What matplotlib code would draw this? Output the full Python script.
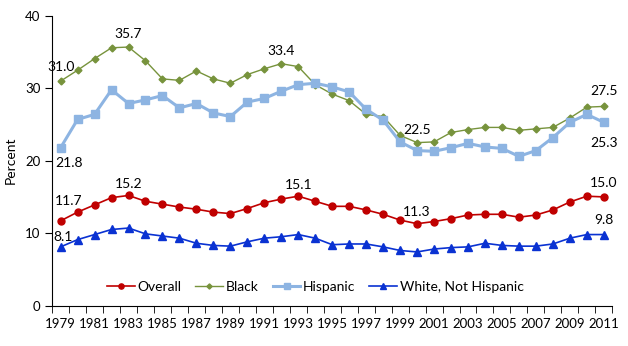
import matplotlib.pyplot as plt

years = list(range(1979, 2012))

overall = [11.7, 12.9, 13.9, 14.9, 15.2, 14.4, 14.0, 13.6, 13.3, 12.9, 12.7,
           13.4, 14.2, 14.7, 15.1, 14.4, 13.7, 13.7, 13.2, 12.6, 11.8, 11.3,
           11.6, 12.0, 12.5, 12.6, 12.6, 12.2, 12.5, 13.2, 14.3, 15.1, 15.0]
black = [31.0, 32.5, 34.1, 35.6, 35.7, 33.8, 31.3, 31.1, 32.4, 31.3, 30.7,
         31.9, 32.7, 33.4, 33.0, 30.5, 29.2, 28.3, 26.4, 26.1, 23.5, 22.5,
         22.6, 23.9, 24.3, 24.6, 24.6, 24.2, 24.4, 24.6, 25.9, 27.4, 27.5]
hispanic = [21.8, 25.7, 26.4, 29.8, 27.9, 28.4, 29.0, 27.3, 27.9, 26.6, 26.1,
            28.1, 28.6, 29.6, 30.5, 30.7, 30.2, 29.5, 27.1, 25.6, 22.6, 21.4,
            21.3, 21.8, 22.4, 21.9, 21.7, 20.6, 21.4, 23.2, 25.3, 26.4, 25.3]
white_nh = [8.1, 9.1, 9.8, 10.5, 10.7, 9.9, 9.6, 9.3, 8.6, 8.3, 8.2,
            8.8, 9.3, 9.5, 9.8, 9.3, 8.4, 8.5, 8.5, 8.1, 7.6, 7.4,
            7.8, 8.0, 8.1, 8.6, 8.3, 8.2, 8.2, 8.5, 9.3, 9.8, 9.8]

# (series, year, text offset in points)
labels = [
    (black, 1979, (0, 6)), (black, 1983, (0, 5)), (black, 1992, (0, 5)),
    (black, 2000, (0, 5)), (black, 2011, (0, 7)),
    (hispanic, 1979, (6, -15)), (hispanic, 2011, (0, -19)),
    (overall, 1979, (6, 10)), (overall, 1983, (0, 4)), (overall, 1993, (0, 4)),
    (overall, 2000, (0, 4)), (overall, 2011, (0, 6)),
    (white_nh, 1979, (2, 3)), (white_nh, 2011, (0, 6)),
]

plt.rcParams['font.family'] = 'Lato'
fig = plt.figure(figsize=(6.28, 3.46), dpi=100)
ax = fig.add_axes([0.083, 0.117, 0.892, 0.837])

ax.plot(years, overall, color="#C00000", lw=1.2, marker="o", ms=5,
        label="Overall")
ax.plot(years, black, color="#77933C", lw=1.0, marker="D", ms=3.5,
        label="Black")
ax.plot(years, hispanic, color="#8DB4E2", lw=2.2, marker="s", ms=5.5,
        label="Hispanic")
ax.plot(years, white_nh, color="#0A32D2", lw=1.2, marker="^", ms=5.5,
        label="White, Not Hispanic")

for series, yr, off in labels:
    v = series[years.index(yr)]
    ax.annotate(f"{v:.1f}", (yr, v), xytext=off, textcoords="offset points",
                ha="center", va="bottom", fontsize=10)

ax.set_xlim(1978.5, 2011.5)
ax.set_ylim(0, 40)
ax.set_yticks([0, 10, 20, 30, 40])
ax.set_xticks(range(1979, 2012, 2))
ax.set_xticks([y + 0.5 for y in range(1978, 2012)], minor=True)
ax.tick_params(axis="x", which="major", length=0, labelsize=9.5, pad=9)
ax.tick_params(axis="x", which="minor", length=5, direction="out")
ax.tick_params(axis="y", length=5, labelsize=9.5)
ax.set_ylabel("Percent", fontsize=10, labelpad=6)
ax.spines["top"].set_visible(False)
ax.spines["right"].set_visible(False)

ax.legend(loc="center", bbox_to_anchor=(0.47, 0.065), ncol=4, frameon=False,
          fontsize=10, handlelength=2, columnspacing=1.0, handletextpad=0.2,
          markerscale=0.75)

fig.savefig("out.png", dpi=100)
